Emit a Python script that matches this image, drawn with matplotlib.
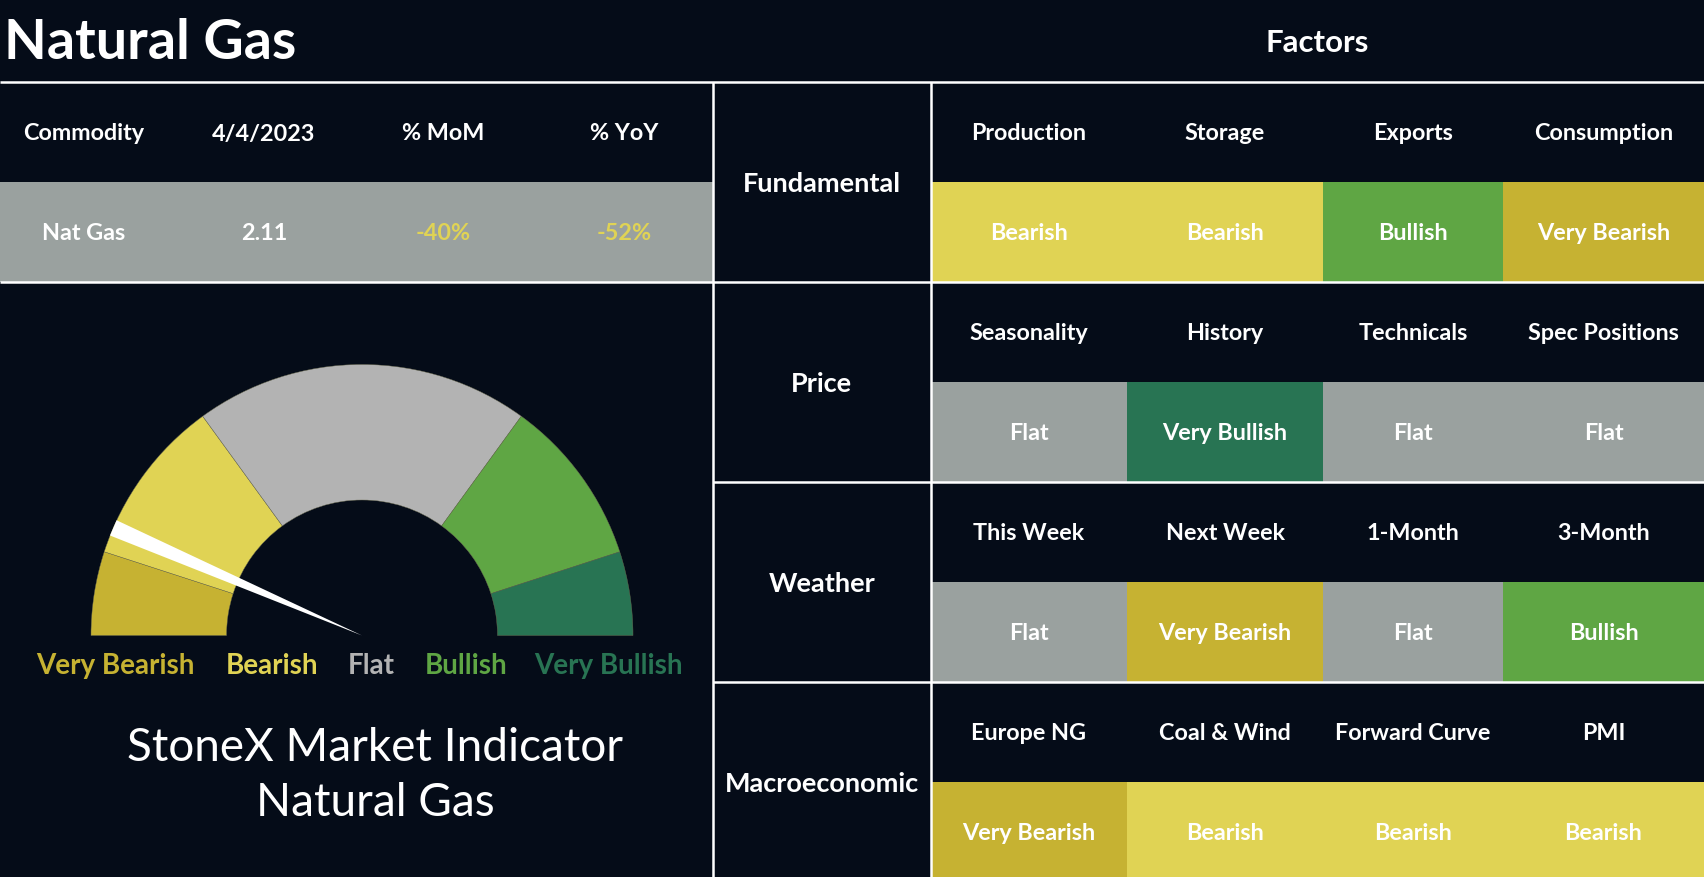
import matplotlib
matplotlib.use('Agg')
import matplotlib.pyplot as plt
from matplotlib.patches import Rectangle, Wedge, Polygon
import numpy as np

plt.rcParams['font.family'] = ['Lato', 'DejaVu Sans']

# ---------------- data ----------------
title = 'Natural Gas'
factors_title = 'Factors'
table_headers = ['Commodity', '4/4/2023', '% MoM', '% YoY']
table_values = ['Nat Gas', '2.11', '-40%', '-52%']

groups = ['Fundamental', 'Price', 'Weather', 'Macroeconomic']
group_factors = [
    ['Production', 'Storage', 'Exports', 'Consumption'],
    ['Seasonality', 'History', 'Technicals', 'Spec Positions'],
    ['This Week', 'Next Week', '1-Month', '3-Month'],
    ['Europe NG', 'Coal & Wind', 'Forward Curve', 'PMI'],
]
group_ratings = [
    ['Bearish', 'Bearish', 'Bullish', 'Very Bearish'],
    ['Flat', 'Very Bullish', 'Flat', 'Flat'],
    ['Flat', 'Very Bearish', 'Flat', 'Bullish'],
    ['Very Bearish', 'Bearish', 'Bearish', 'Bearish'],
]

gauge_labels = ['Very Bearish', 'Bearish', 'Flat', 'Bullish', 'Very Bullish']
gauge_spans = [1, 2, 4, 2, 1]
needle_score = 1.3          # position on the 0..10 gauge scale
indicator_lines = ['StoneX Market Indicator', 'Natural Gas']

# ---------------- style ----------------
W, H = 1704, 878
BG = '#050c18'
WHITE = '#ffffff'
rating_colors = {
    'Very Bearish': '#c6b232',
    'Bearish': '#e0d354',
    'Flat': '#9aa19f',
    'Bullish': '#5fa644',
    'Very Bullish': '#287453',
}
gauge_colors = ['#c6b232', '#e0d354', '#b3b3b3', '#5fa644', '#287453']
pct_color = '#e0d354'

fig = plt.figure(figsize=(W / 100, H / 100), dpi=100, facecolor=BG)
ax = fig.add_axes([0, 0, 1, 1])
ax.set_xlim(0, W)
ax.set_ylim(H, 0)
ax.axis('off')
ax.set_facecolor(BG)

LW = 1.8
TXT = 16.8

# ---------------- title row ----------------
ax.text(4, 59.4, title, color=WHITE, fontsize=40, fontweight='bold',
        ha='left', va='baseline')
ax.text(1317, 51.7, factors_title, color=WHITE, fontsize=22.5, fontweight='bold',
        ha='center', va='baseline')

# ---------------- left table ----------------
left_x0, left_x1 = 0, 712.5
row_top, row_mid, row_bot = 82.7, 183.3, 282.7
ax.add_patch(Rectangle((left_x0, row_mid), left_x1 - left_x0, row_bot - row_mid,
                       facecolor=rating_colors['Flat'], edgecolor='none', zorder=1))
col_centers = [84, 264, 443.5, 624.5]
for i, (hd, val) in enumerate(zip(table_headers, table_values)):
    ax.text(col_centers[i], 140.5, hd, color=WHITE, fontsize=TXT, fontweight='bold',
            ha='center', va='baseline', zorder=3)
    c = pct_color if val.endswith('%') else WHITE
    ax.text(col_centers[i], 240, val, color=c, fontsize=TXT, fontweight='bold',
            ha='center', va='baseline', zorder=3)

# ---------------- right factor grid ----------------
vx0, vx1 = 713, 930.5
col_edges = [930.5, 1127, 1323, 1503, 1704]
group_tops = [82.7, 282.7, 482.7, 682.7, 878]
for g, gname in enumerate(groups):
    top, bot = group_tops[g], group_tops[g + 1]
    cmid = top + 100.6
    ax.text((vx0 + vx1) / 2, top + 109.5, gname, color=WHITE, fontsize=19.5,
            fontweight='bold', ha='center', va='baseline', zorder=3)
    for j in range(4):
        xa, xb = col_edges[j], col_edges[j + 1]
        rating = group_ratings[g][j]
        ax.add_patch(Rectangle((xa, cmid), xb - xa, bot - cmid,
                               facecolor=rating_colors[rating], edgecolor='none', zorder=1))
        ax.text((xa + xb) / 2, top + 57.5, group_factors[g][j], color=WHITE, fontsize=TXT,
                fontweight='bold', ha='center', va='baseline', zorder=3)
        ax.text((xa + xb) / 2, top + 157.5, rating, color=WHITE, fontsize=TXT,
                fontweight='bold', ha='center', va='baseline', zorder=3)

# ---------------- grid lines ----------------
ax.plot([0, W], [82.5, 82.5], color=WHITE, lw=LW, zorder=4, solid_capstyle='butt')
ax.plot([0, W], [282.7, 282.7], color=WHITE, lw=LW, zorder=4, solid_capstyle='butt')
for yy in group_tops[2:4]:
    ax.plot([vx0, W], [yy, yy], color=WHITE, lw=LW, zorder=4, solid_capstyle='butt')
for xx in (vx0, vx1):
    ax.plot([xx, xx], [82.5, H], color=WHITE, lw=LW, zorder=4, solid_capstyle='butt')

# ---------------- gauge ----------------
cx, cy = 362, 636.5
R, r = 271, 135.5
total = float(sum(gauge_spans))
deg_per = 180.0 / total
cum = np.concatenate([[0], np.cumsum(gauge_spans)])
for i in range(len(gauge_spans)):
    a_hi = 180 - deg_per * cum[i]       # visual angle (ccw from right)
    a_lo = 180 - deg_per * cum[i + 1]
    ax.add_patch(Wedge((cx, cy), R, 360 - a_hi, 360 - a_lo, width=R - r,
                       facecolor=gauge_colors[i], edgecolor='#6b6b50', lw=0.3, zorder=2))

alpha = np.deg2rad(180 - deg_per * needle_score)
d = np.array([np.cos(alpha), -np.sin(alpha)])
p = np.array([np.sin(alpha), np.cos(alpha)])
tip = np.array([cx, cy])
base = tip + R * d
half_w = 8.3
ax.add_patch(Polygon([tip, base + half_w * p, base - half_w * p], closed=True,
                     facecolor=WHITE, edgecolor='none', zorder=3))

label_x = [115.7, 271.5, 371, 465.7, 608.8]
for lx, lab, col in zip(label_x, gauge_labels, gauge_colors):
    ax.text(lx, 674, lab, color=col, fontsize=20, fontweight='bold',
            ha='center', va='baseline', zorder=3)

ax.text(375, 760.7, indicator_lines[0], color=WHITE, fontsize=33,
        ha='center', va='baseline', zorder=3)
ax.text(375, 816, indicator_lines[1], color=WHITE, fontsize=33,
        ha='center', va='baseline', zorder=3)

fig.savefig('out.png', dpi=100, facecolor=BG)
